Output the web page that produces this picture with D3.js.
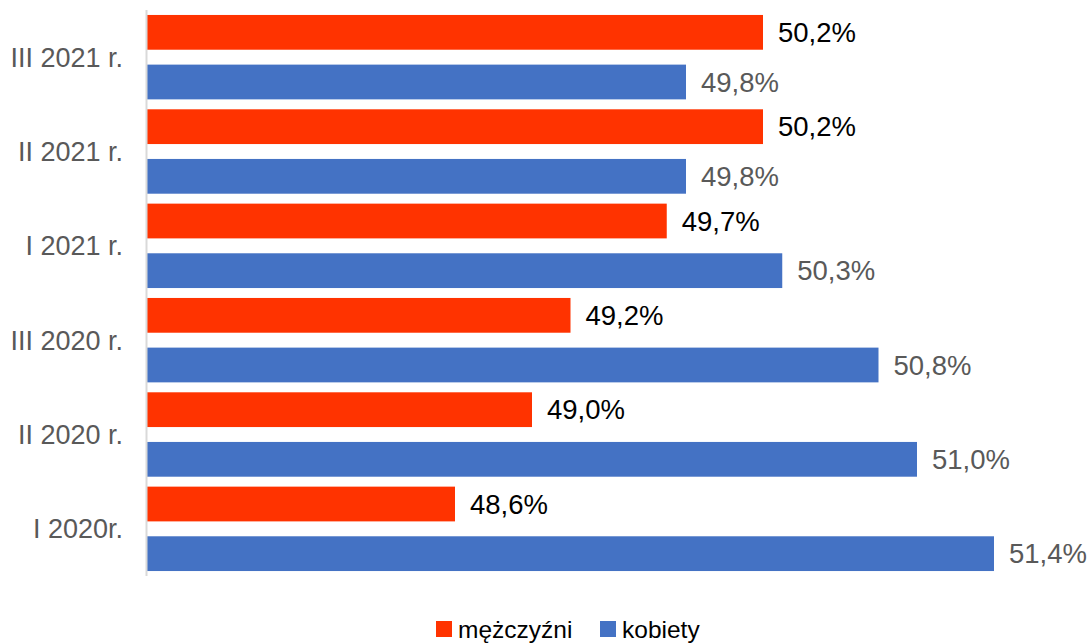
<!DOCTYPE html>
<html>
<head>
<meta charset="utf-8">
<script src="https://cdn.jsdelivr.net/npm/d3@7"></script>
<style>
  body { margin: 0; background: #fff; }
  svg { display: block; }
</style>
</head>
<body>
<div id="chart"></div>
<script>
// dane z wykresu
const categories = ['III 2021 r.', 'II 2021 r.', 'I 2021 r.', 'III 2020 r.', 'II 2020 r.', 'I 2020r.'];
const series = ['mężczyźni', 'kobiety'];
const menValues = [50.2, 50.2, 49.7, 49.2, 49.0, 48.6];
const womenValues = [49.8, 49.8, 50.3, 50.8, 51.0, 51.4];
const colors = ['#FF3300', '#4472C4'];
const labelColors = ['#000000', '#595959'];

const width = 1092, height = 643;
const font = "'Liberation Sans', Arial, sans-serif";

const svg = d3.select('#chart').append('svg')
    .attr('width', width)
    .attr('height', height);

const x = d3.scaleLinear().domain([47, 52]).range([147, 1109.5]);
const y0 = d3.scaleBand().domain(categories).range([10, 576]);
const y1 = d3.scaleBand().domain(series).range([0, y0.bandwidth()])
    .paddingInner(0.3).paddingOuter(0.1);

const rows = categories.map((c, i) => ({
    cat: c,
    vals: [menValues[i], womenValues[i]]
}));

const groups = svg.selectAll('.cat')
    .data(rows)
    .enter().append('g')
    .attr('class', 'cat')
    .attr('transform', d => `translate(0,${y0(d.cat)})`);

groups.selectAll('rect')
    .data(d => d.vals.map((v, i) => ({ s: series[i], v, i })))
    .enter().append('rect')
    .attr('x', x(47))
    .attr('y', d => y1(d.s))
    .attr('width', d => x(d.v) - x(47))
    .attr('height', y1.bandwidth())
    .attr('fill', d => colors[d.i]);

groups.selectAll('.val')
    .data(d => d.vals.map((v, i) => ({ s: series[i], v, i })))
    .enter().append('text')
    .attr('class', 'val')
    .attr('x', d => x(d.v) + 15)
    .attr('y', d => y1(d.s) + y1.bandwidth() / 2)
    .attr('dy', '0.35em')
    .style('font-family', font)
    .style('font-size', '27.5px')
    .attr('fill', d => labelColors[d.i])
    .text(d => d.v.toFixed(1).replace('.', ',') + '%');

// os kategorii
svg.append('line')
    .attr('x1', 146.5).attr('x2', 146.5)
    .attr('y1', 10).attr('y2', 576)
    .attr('stroke', '#d9d9d9')
    .attr('stroke-width', 2);

svg.selectAll('.catlabel')
    .data(categories)
    .enter().append('text')
    .attr('class', 'catlabel')
    .attr('x', 123)
    .attr('y', d => y0(d) + y0.bandwidth() / 2)
    .attr('dy', '0.35em')
    .attr('text-anchor', 'end')
    .style('font-family', font)
    .style('font-size', '27px')
    .attr('fill', '#595959')
    .text(d => d);

// legenda
const legendX = [436, 600];
const legend = svg.selectAll('.legend')
    .data(series)
    .enter().append('g')
    .attr('class', 'legend')
    .attr('transform', (d, i) => `translate(${legendX[i]},621)`);

legend.append('rect')
    .attr('width', 16).attr('height', 16)
    .attr('fill', (d, i) => colors[i]);

legend.append('text')
    .attr('x', 22)
    .attr('y', 8)
    .attr('dy', '0.35em')
    .style('font-family', font)
    .style('font-size', '24.5px')
    .attr('fill', '#000')
    .text(d => d);
</script>
</body>
</html>
